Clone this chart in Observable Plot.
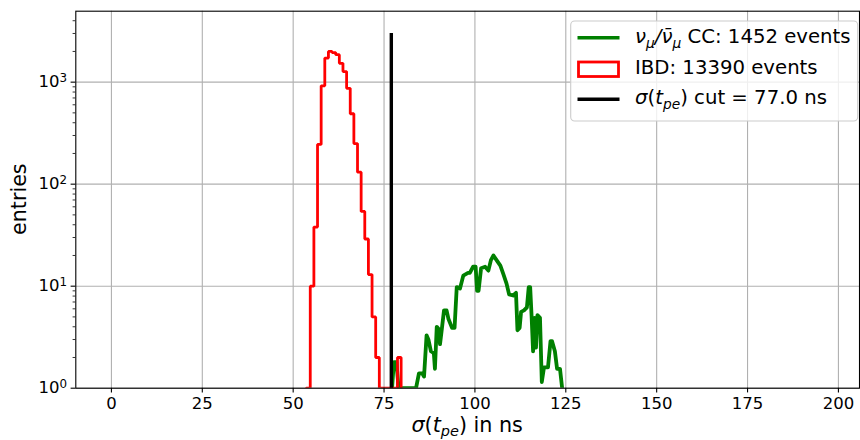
<!DOCTYPE html>
<html>
<head>
<meta charset="utf-8">
<script src="https://cdn.jsdelivr.net/npm/d3@7"></script>
<script src="https://cdn.jsdelivr.net/npm/@observablehq/plot@0.6"></script>
<style>
  html, body { margin: 0; padding: 0; background: #fff; }
  #chart { width: 860px; height: 440px; }
</style>
</head>
<body>
<div id="chart"></div>
<script>
// IBD events: σ(t_pe) histogram with 1 ns bins, first bin starting at ibdFirstEdge
const ibdFirstEdge = 53.7;
const ibdBinWidth = 1;
const ibdCounts = [1, 10, 38, 245, 920, 1720, 2000, 1950, 1860, 1530, 1270, 870, 490, 250,
                   131, 54, 29, 13, 5, 2, 0, 0, 0, 0, 0, 2];

// νμ / anti-νμ CC events: σ(t_pe) positions (ns) and entries
const numuX = [77.2, 77.7, 78.4, 79.0, 80.2, 82.1, 83.8, 84.6, 85.5, 86.0,
               86.7, 87.2, 87.9, 88.7, 89.0, 89.5, 90.0, 90.4, 90.9, 91.5,
               92.2, 92.7, 93.7, 94.4, 95.0, 95.9, 96.8, 98.1, 98.6, 99.5,
               100.2, 100.6, 101.0, 101.7, 102.8, 103.7, 104.4, 105.1, 106.0, 107.0,
               107.8, 108.7, 109.4, 110.5, 111.3, 111.7, 112.3, 112.7, 113.5, 114.3,
               114.8, 115.2, 115.6, 116.0, 116.4, 116.8, 117.2, 117.9, 118.4, 119.0,
               120.1, 120.8, 121.2, 122.0, 122.6, 123.4, 124.0];
const numuCounts = [1, 1.8, 1.8, 1, 1, 1, 1, 1.4, 1.4, 1.3,
                    3.3, 3.0, 2.3, 2.2, 1.55, 4.0, 3.8, 2.7, 3.8, 5.8,
                    5.8, 4.8, 3.9, 3.9, 9.8, 9.5, 12.7, 13.5, 13.5, 15.5,
                    15.5, 9.0, 9.0, 15, 15.5, 14.2, 18, 20, 17.9, 15.9,
                    13.2, 10.6, 8.3, 8.1, 8.6, 3.7, 3.9, 5.6, 5.8, 6.2,
                    9.8, 9.8, 5.0, 2.3, 4.9, 2.5, 5.2, 4.9, 1.15, 1.6,
                    1.6, 2.9, 2.9, 2.3, 1.55, 1.55, 1.0];
const numuTotal = 1452;

// σ(t_pe) cut
const cutValue = 77.0;
const cutLineTop = 3000;

// axes
const xDomain = [-9.8, 205.8];
const yDomain = [1, 4960];
const xTicks = [0, 25, 50, 75, 100, 125, 150, 175, 200];
const yTicks = [1, 10, 100, 1000];
const yTickExponents = ["0", "1", "2", "3"];
const yMinorTicks = [2, 3, 4, 5, 6, 7, 8, 9,
                     20, 30, 40, 50, 60, 70, 80, 90,
                     200, 300, 400, 500, 600, 700, 800, 900,
                     2000, 3000, 4000];

// ---- derived tables ----
const yFloor = yDomain[0];
const ibdEdges = ibdCounts.map((_, i) => ibdFirstEdge + i * ibdBinWidth);
const ibdLastEdge = ibdFirstEdge + ibdCounts.length * ibdBinWidth;
const ibdStep = [{x: ibdFirstEdge, y: yFloor}]
  .concat(ibdCounts.map((c, i) => ({x: ibdEdges[i], y: Math.max(c, yFloor)})))
  .concat([{x: ibdLastEdge, y: Math.max(ibdCounts[ibdCounts.length - 1], yFloor)},
           {x: ibdLastEdge, y: yFloor}]);
const ibdTotal = d3.sum(ibdCounts);
const numu = numuX.map((x, i) => ({x, y: numuCounts[i]}));
const yExpOf = new Map(yTicks.map((t, i) => [t, yTickExponents[i]]));

const W = 860, H = 440;
const mL = 75.3, mR = 1, mT = 10.7, mB = 52.3;
const FONT = "DejaVu Sans";
const TICK_FS = 16.5;

const chart = Plot.plot({
  width: W, height: H,
  marginLeft: mL, marginRight: mR, marginTop: mT, marginBottom: mB,
  x: {domain: xDomain},
  y: {type: "log", domain: yDomain},
  style: {fontFamily: FONT, fontSize: TICK_FS + "px", color: "black", background: "white", overflow: "visible"},
  marks: [
    Plot.gridX({ticks: xTicks, stroke: "#b0b0b0", strokeOpacity: 1, strokeWidth: 1.1}),
    Plot.gridY({ticks: yTicks, stroke: "#b0b0b0", strokeOpacity: 1, strokeWidth: 1.1}),
    Plot.line(numu, {x: "x", y: "y", stroke: "green", strokeWidth: 3.8, clip: true}),
    Plot.line(ibdStep, {x: "x", y: "y", curve: "step-after", stroke: "red", strokeWidth: 2.8,
                        strokeLinejoin: "miter", clip: true}),
    Plot.ruleX([cutValue], {y1: yFloor, y2: cutLineTop, stroke: "black", strokeWidth: 3.4}),
    Plot.frame({stroke: "black", strokeWidth: 1.1}),
    Plot.axisX({ticks: xTicks, tickSize: 4.7, tickPadding: 4.5, label: null, fontSize: TICK_FS, strokeWidth: 1.1}),
    Plot.axisY({ticks: yTicks, tickSize: 4.7, tickPadding: 4, label: null, fontSize: TICK_FS,
                tickFormat: d => "10^" + yExpOf.get(d), strokeWidth: 1.1}),
    Plot.axisY({ticks: yMinorTicks, tickSize: 2.7, label: null, tickFormat: () => "", strokeWidth: 0.8})
  ]
});
document.getElementById("chart").appendChild(chart);

const svg = d3.select(chart);

// log-axis tick labels: "10^n" -> 10 with a raised exponent
svg.selectAll("text").each(function() {
  const el = d3.select(this);
  const s = el.text();
  if (!s.includes("^")) return;
  const [base, exp] = s.split("^");
  el.text(null);
  el.append("tspan").text(base);
  el.append("tspan").attr("dy", "-0.42em").attr("font-size", TICK_FS * 0.72).text(exp);
});

// ---- rich text helper: parts with italic / subscript runs ----
function richText(sel, parts, fs) {
  let offset = 0;
  parts.forEach(p => {
    const target = p.sub ? 0.24 * fs : 0;
    const ts = sel.append("tspan")
      .attr("dy", (target - offset).toFixed(2))
      .attr("font-size", p.sub ? fs * 0.7 : fs)
      .attr("font-style", p.it ? "italic" : "normal")
      .text(p.t);
    if (p.dx) ts.attr("dx", p.dx);
    offset = target;
  });
}

const plotCx = mL + (W - mL - mR) / 2;
const plotCy = mT + (H - mT - mB) / 2;

// axis titles
const xl = svg.append("text")
  .attr("x", plotCx).attr("y", 431.5)
  .attr("text-anchor", "middle")
  .attr("font-family", FONT).attr("fill", "black");
richText(xl, [
  {t: "σ", it: true}, {t: "("}, {t: "t", it: true}, {t: "pe", it: true, sub: true},
  {t: ")"}, {t: " in ns"}
], 20.7);

svg.append("text")
  .attr("transform", `translate(18.5,${plotCy}) rotate(-90)`)
  .attr("text-anchor", "middle")
  .attr("dominant-baseline", "central")
  .attr("font-family", FONT).attr("font-size", 20.7).attr("fill", "black")
  .text("entries");

// legend
const lg = svg.append("g").attr("font-family", FONT).attr("text-anchor", "start");
lg.append("rect")
  .attr("x", 570.7).attr("y", 21).attr("width", 287).attr("height", 100)
  .attr("rx", 4).attr("fill", "white").attr("fill-opacity", 0.8)
  .attr("stroke", "#cccccc").attr("stroke-width", 1.1);
const rows = [43.4, 73.6, 103.8];
const hx0 = 577.5, hx1 = 619.5, tx = 635, lfs = 19.7;
lg.append("line").attr("x1", hx0).attr("x2", hx1).attr("y1", 37.7).attr("y2", 37.7)
  .attr("stroke", "green").attr("stroke-width", 3.4);
lg.append("rect").attr("x", hx0 + 1).attr("y", 62).attr("width", hx1 - hx0 - 2).attr("height", 14.5)
  .attr("fill", "none").attr("stroke", "red").attr("stroke-width", 2.8);
lg.append("line").attr("x1", hx0).attr("x2", hx1).attr("y1", 99.3).attr("y2", 99.3)
  .attr("stroke", "black").attr("stroke-width", 3.4);

const t1 = lg.append("text").attr("x", tx).attr("y", rows[0]).attr("fill", "black");
richText(t1, [
  {t: "ν", it: true}, {t: "μ", it: true, sub: true}, {t: "/", it: true},
  {t: "ν\u0304", it: true}, {t: "μ", it: true, sub: true},
  {t: " CC"}, {t: `: ${numuTotal} events`}
], lfs);
lg.append("text").attr("x", tx).attr("y", rows[1]).attr("fill", "black")
  .attr("font-size", lfs).text(`IBD: ${ibdTotal} events`);
const t3 = lg.append("text").attr("x", tx).attr("y", rows[2]).attr("fill", "black");
richText(t3, [
  {t: "σ", it: true}, {t: "("}, {t: "t", it: true}, {t: "pe", it: true, sub: true},
  {t: ")"}, {t: ` cut = ${cutValue.toFixed(1)} ns`}
], lfs);
</script>
</body>
</html>
